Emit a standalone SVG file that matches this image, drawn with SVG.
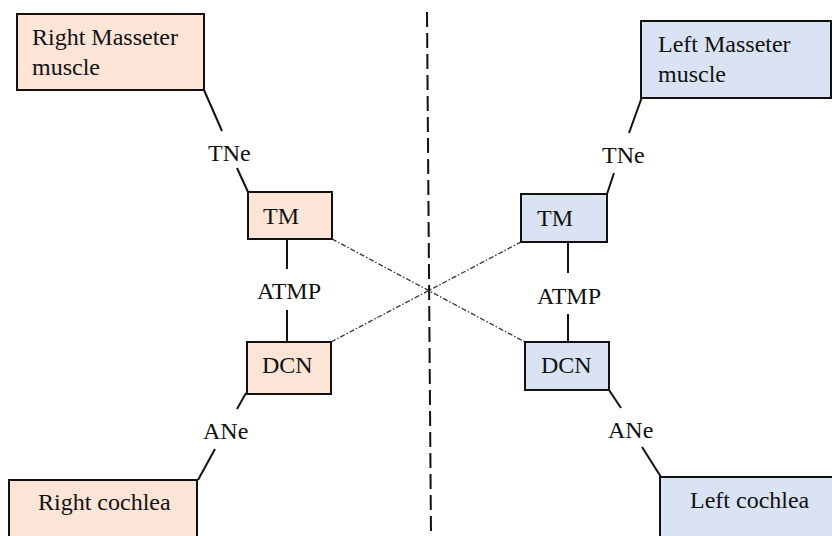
<svg xmlns="http://www.w3.org/2000/svg" width="832" height="536" viewBox="0 0 832 536" font-family="'Liberation Serif', 'DejaVu Serif', 'Noto Serif', serif">
  <style>
    text { font-family: "Liberation Serif", "Tinos", "DejaVu Serif", serif; font-size: 24px; fill: #111; }
    .r { fill: #FCE4D6; stroke: #111; stroke-width: 2; }
    .l { fill: #DAE3F3; stroke: #111; stroke-width: 2; }
    .link { stroke: #111; stroke-width: 2; fill: none; }
    .cross { stroke: #333; stroke-width: 1.3; stroke-dasharray: 5 2 1.5 2; fill: none; }
    .mid { stroke: #111; stroke-width: 2; stroke-dasharray: 15 6; fill: none; }
  </style>
  <rect width="832" height="536" fill="#fff"/>

  <!-- midline -->
  <line class="mid" x1="427" y1="12" x2="431" y2="536"/>

  <g id="connectors">
    <!-- right side chain -->
    <line class="link" x1="204" y1="90" x2="222" y2="131"/>
    <line class="link" x1="237" y1="168" x2="248" y2="192"/>
    <line class="link" x1="287" y1="239" x2="287" y2="269"/>
    <line class="link" x1="287" y1="310" x2="287" y2="342"/>
    <line class="link" x1="246" y1="393" x2="237" y2="409"/>
    <line class="link" x1="215" y1="449" x2="198" y2="480"/>
    <!-- left side chain -->
    <line class="link" x1="642" y1="97" x2="629" y2="133"/>
    <line class="link" x1="614" y1="173" x2="607" y2="194"/>
    <line class="link" x1="568" y1="242" x2="568" y2="273"/>
    <line class="link" x1="568" y1="314" x2="568" y2="342"/>
    <line class="link" x1="609" y1="390" x2="621" y2="408"/>
    <line class="link" x1="642" y1="447" x2="661" y2="477"/>
    <!-- crossed projections -->
    <line class="cross" x1="332" y1="239" x2="525" y2="342"/>
    <line class="cross" x1="331" y1="342" x2="521" y2="242"/>
  </g>

  <g id="right-masseter">
    <rect class="r" x="17" y="14" width="187" height="76"/>
    <text x="32" y="45">Right Masseter</text>
    <text x="32" y="75">muscle</text>
  </g>
  <g id="left-masseter">
    <rect class="l" x="641" y="21" width="190" height="77"/>
    <text x="658" y="52">Left Masseter</text>
    <text x="658" y="82">muscle</text>
  </g>

  <g id="right-tm">
    <rect class="r" x="248" y="192" width="84" height="47"/>
    <text x="263" y="224">TM</text>
  </g>
  <g id="left-tm">
    <rect class="l" x="521" y="194" width="86" height="48"/>
    <text x="537" y="226">TM</text>
  </g>

  <g id="right-dcn">
    <rect class="r" x="247" y="342" width="84" height="52"/>
    <text x="262" y="373">DCN</text>
  </g>
  <g id="left-dcn">
    <rect class="l" x="525" y="342" width="84" height="48"/>
    <text x="541" y="373">DCN</text>
  </g>

  <g id="right-cochlea">
    <rect class="r" x="9" y="480" width="188" height="70"/>
    <text x="38" y="510">Right cochlea</text>
  </g>
  <g id="left-cochlea">
    <rect class="l" x="660" y="477" width="180" height="70"/>
    <text x="690" y="508">Left cochlea</text>
  </g>

  <g id="labels">
    <text x="208" y="161">TNe</text>
    <text x="602" y="163">TNe</text>
    <text x="257" y="299">ATMP</text>
    <text x="537" y="304">ATMP</text>
    <text x="203" y="439">ANe</text>
    <text x="608" y="438">ANe</text>
  </g>
</svg>
